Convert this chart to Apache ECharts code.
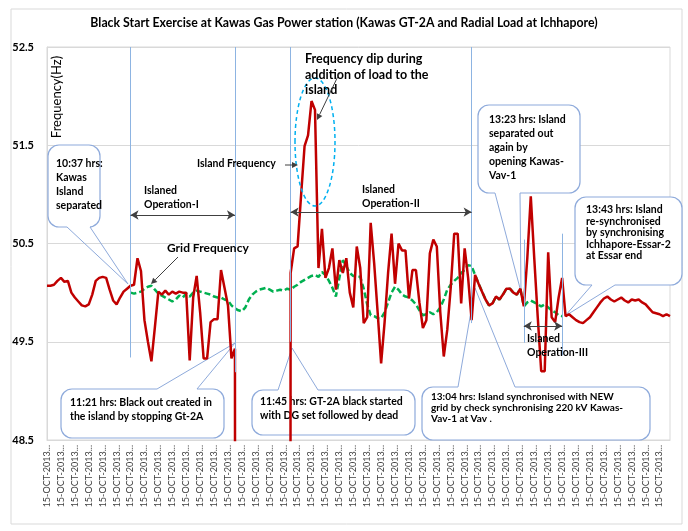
<!DOCTYPE html>
<html><head><meta charset="utf-8">
<script src="https://cdn.jsdelivr.net/npm/echarts@6/dist/echarts.min.js"></script>
<style>html,body{margin:0;padding:0;background:#fff}#c{width:688px;height:531px}</style>
</head><body><div id="c"></div>
<script>
// ---- data ----
const titleText = 'Black Start Exercise at Kawas Gas Power station (Kawas GT-2A and Radial Load at Ichhapore)';
const tickLabel = '15-OCT-2013...';
const categories = Array.from({length: 180}, () => tickLabel);
const yTicks = [48.5, 49.5, 50.5, 51.5, 52.5];

// Island frequency (Hz); 0 = black-out (off the bottom of the axis)
const islandFreq = [
 50.07,50.07,50.08,50.12,50.15,50.11,50.12,50.0,49.95,49.91,
 49.87,49.86,49.88,49.98,50.12,50.15,50.16,50.15,50.03,49.92,
 49.88,49.95,50.01,50.04,50.07,50.08,50.35,50.22,49.72,49.5,
 49.30,49.65,50.01,49.98,50.02,49.98,50.01,49.99,50.01,50.0,
 50.0,49.31,49.95,50.17,49.8,49.33,49.33,49.70,49.73,49.73,
 50.23,50.05,49.87,49.33,49.43,0,0,0,0,0,
 0,0,0,0,0,0,0,0,0,0,
 50.2,50.45,50.47,50.99,51.49,51.6,51.95,51.86,50.25,50.65,
 50.15,50.25,50.45,50.03,50.33,50.2,50.35,50.0,49.85,50.47,
 50.25,49.69,49.75,50.71,50.3,49.8,49.28,49.7,50.2,50.6,
 50.09,50.5,50.43,50.43,49.94,50.23,50.23,49.9,49.64,49.72,
 50.4,50.54,50.47,49.8,49.35,49.62,50.05,50.6,50.6,49.89,
 50.45,50.15,49.72,50.18,50.09,50.01,49.93,49.87,49.89,49.96,
 49.93,49.98,50.04,50.04,50.0,49.98,50.04,49.86,50.35,50.98,
 50.35,49.75,49.2,49.2,50.41,49.75,49.7,49.95,50.15,49.76,
 49.78,49.75,49.72,49.7,49.69,49.72,49.75,49.8,49.85,49.9,
 49.94,49.96,49.93,49.91,49.93,49.95,49.92,49.9,49.93,49.92,
 49.93,49.9,49.88,49.84,49.8,49.79,49.78,49.76,49.78,49.76
];
// Grid frequency (Hz)
const gridFreq = [
 null,null,null,null,null,null,null,null,null,null,
 null,null,null,null,null,null,null,null,null,null,
 null,null,null,null,50.0,49.99,50.0,50.01,50.04,50.06,
 50.07,50.03,49.99,49.97,49.95,49.93,49.91,49.93,49.97,49.95,
 49.99,49.96,50.0,50.02,50.01,50.0,49.99,49.98,49.96,49.95,
 49.95,49.93,49.92,49.87,49.84,49.82,49.81,49.85,49.93,49.98,
 50.01,50.03,50.04,50.05,50.03,50.01,50.02,50.03,50.02,50.04,
 50.03,50.06,50.08,50.11,50.13,50.15,50.17,50.18,50.16,50.21,
 50.18,50.12,50.05,49.96,50.15,50.33,50.27,50.2,50.17,50.17,
 50.16,50.04,49.88,49.77,49.76,49.74,49.74,49.8,49.9,50.0,
 50.06,50.03,49.98,49.96,49.95,49.92,49.88,49.82,49.77,49.78,
 49.8,49.78,49.8,49.85,49.93,50.03,50.08,50.12,50.15,50.2,
 50.23,50.28,50.27,50.18,50.09,50.01,49.93,49.87,49.89,49.96,
 49.93,49.98,50.04,50.04,50.0,49.98,50.04,49.86,49.9,49.92,
 49.9,49.88,49.86,49.88,49.85,49.82,49.8,49.77,49.76,null,
 null,null,null,null,null,null,null,null,null,null,
 null,null,null,null,null,null,null,null,null,null,
 null,null,null,null,null,null,null,null,null,null
];
// event markers: [category index, top value, bottom value]
const eventLines = [[24,52.5,49.34],[54,52.5,49.19],[70,52.5,49.5],[122,52.5,49.69],[137,50.54,49.49],[148,50.6,49.36]];
// islanded periods: [start index, end index, level]
const periods = [[24,54,50.79],[70,122,50.82],[137,148,49.66]];

// ---- chart ----
const FONT = 'Lato, "Open Sans", sans-serif';
const chart = echarts.init(document.getElementById('c'), null, {renderer: 'canvas'});
const BLUE = '#8eaadb';

function callout(box, lines, tx, ty, lh, fs, b1, tip, b2) {
  const els = [];
  els.push({type:'rect', z:1, shape:{x:box[0], y:box[1], width:box[2], height:box[3], r:11},
            style:{fill:'#fff', stroke:BLUE, lineWidth:1.2}});
  els.push({type:'line', z:1, shape:{x1:b1[0], y1:b1[1], x2:b2[0], y2:b2[1]}, style:{stroke:'#fff', lineWidth:3}});
  els.push({type:'polyline', z:1, shape:{points:[b1, tip, b2]}, style:{stroke:BLUE, lineWidth:1, fill:null}});
  els.push({type:'text', z:1, style:{text:lines.join('\n'), x:tx, y:ty - lh/2, textVerticalAlign:'top',
            font:'bold ' + fs + 'px ' + FONT, fill:'#000', lineHeight:lh}});
  return els;
}
function txt(lines, x, y, lh, fs, weight) {
  return {type:'text', z:6, style:{text:lines.join('\n'), x:x, y:y - lh/2, textVerticalAlign:'top',
          font:(weight||'bold') + ' ' + fs + 'px ' + FONT, fill:'#000', lineHeight:lh}};
}
function arrow(x1, y1, x2, y2) {
  const a = Math.atan2(y2 - y1, x2 - x1), L = 6, W = 3;
  const bx = x2 - L*Math.cos(a), by = y2 - L*Math.sin(a);
  return [
    {type:'line', z:6, shape:{x1:x1, y1:y1, x2:bx, y2:by}, style:{stroke:'#404040', lineWidth:1}},
    {type:'polygon', z:6, shape:{points:[[x2,y2],[bx - W*Math.sin(a), by + W*Math.cos(a)],[bx + W*Math.sin(a), by - W*Math.cos(a)]]},
     style:{fill:'#404040'}}
  ];
}

const graphics = [].concat(
  [{type:'rect', z:0, shape:{x:11, y:9, width:671, height:515}, style:{fill:null, stroke:'#d9d9d9', lineWidth:1}}],
  callout([48,145,52,82], ['10:37 hrs:','Kawas','Island','separated'], 56, 164, 14, 10.5, [67,227], [128,284], [90,227]),
  callout([61,389,163,49], ['11:21 hrs: Black out created in','the island by stopping Gt-2A'], 70, 403, 13.5, 10.5, [157,389], [235,343], [197,389]),
  callout([252,390,163,45], ['11:45 hrs: GT-2A black started','with DG set followed by dead'], 260, 402, 14, 10.5, [278,390], [292,348], [318,390]),
  callout([422,387,228,53], ['13:04 hrs: Island synchronised with NEW','grid by check synchronising 220 kV Kawas-','Vav-1 at Vav .'], 431, 397, 11, 10, [458,387], [475,288], [515,387]),
  callout([478,105,102,88], ['13:23 hrs: Island','separated out','again by','opening Kawas-','Vav-1'], 489, 120, 14, 10.5, [495,193], [521,292], [520,193]),
  callout([575,197,107,88], ['13:43 hrs: Island','re-synchronised','by synchronising','Ichhapore-Essar-2','at Essar end'], 586, 210, 11.5, 10.5, [592,285], [565,316], [615,285]),
  [
    {type:'text', z:6, x:57, y:97, rotation:Math.PI/2,
     style:{text:'Frequency(Hz)', x:0, y:0, textAlign:'center', textVerticalAlign:'middle', font:'13px ' + FONT, fill:'#000'}},
    {type:'ellipse', z:6, shape:{cx:315, cy:142, rx:20, ry:64}, style:{fill:null, stroke:'#00b0f0', lineWidth:1.5, lineDash:[4,3]}},
    txt(['Island Frequency'], 197, 164, 13, 10.5),
    txt(['Grid Frequency'], 167, 248, 14, 12),
    txt(['Frequency dip during','addition of load to the','island'], 305, 59, 15.5, 12.5),
    txt(['Islaned','Operation-I'], 144, 191, 14, 10.5),
    txt(['Islaned','Operation-II'], 362, 190, 14, 10.5),
    txt(['Islaned','Operation-III'], 527, 339, 14, 10.5)
  ],
  arrow(285,165,298,165),
  arrow(178,257,151,284),
  arrow(340,72,317,120)
);

chart.setOption({
  animation: false,
  backgroundColor: '#fff',
  title: {text: titleText, left: 'center', top: 12,
          textStyle: {fontFamily: FONT, fontWeight: 'bold', fontSize: 12.3, color: '#000'}},
  grid: {left: 47, right: 18, top: 47, bottom: 91, show: true, borderColor: '#d9d9d9', borderWidth: 1},
  xAxis: {type: 'category', data: categories, boundaryGap: false,
          axisLine: {lineStyle: {color: '#d9d9d9'}}, axisTick: {show: false},
          axisLabel: {interval: 3, rotate: 90, fontSize: 9, color: '#404040', margin: 5, fontFamily: FONT}},
  yAxis: {type: 'value', min: yTicks[0], max: yTicks[yTicks.length-1], interval: 1,
          axisLine: {show: true, lineStyle: {color: '#d9d9d9'}}, axisTick: {show: false},
          splitLine: {lineStyle: {color: '#d9d9d9'}},
          axisLabel: {formatter: v => v.toFixed(1), fontWeight: 'bold', fontSize: 11, color: '#000', margin: 13, fontFamily: FONT}},
  graphic: graphics,
  series: [
    {type: 'line', name: 'Grid Frequency', data: gridFreq, symbol: 'none', z: 2,
     lineStyle: {color: '#00b050', width: 2.5, type: [6, 3]},
     markLine: {silent: true, symbol: 'none', label: {show: false},
       lineStyle: {color: '#8db4e2', width: 1, type: 'solid'},
       data: eventLines.map(e => [{coord: [e[0], e[1]]}, {coord: [e[0], e[2]]}])}},
    {type: 'line', name: 'Island Frequency', data: islandFreq, symbol: 'none', z: 3,
     lineStyle: {color: '#c00000', width: 2.5}},
    {type: 'line', name: 'periods', data: [], z: 5,
     markLine: {silent: true, symbol: ['arrow', 'arrow'], symbolSize: [7, 8], label: {show: false},
       lineStyle: {color: '#404040', width: 1.2, type: 'solid'},
       data: periods.map(p => [{coord: [p[0], p[2]]}, {coord: [p[1], p[2]]}])}}
  ]
});
</script></body></html>
